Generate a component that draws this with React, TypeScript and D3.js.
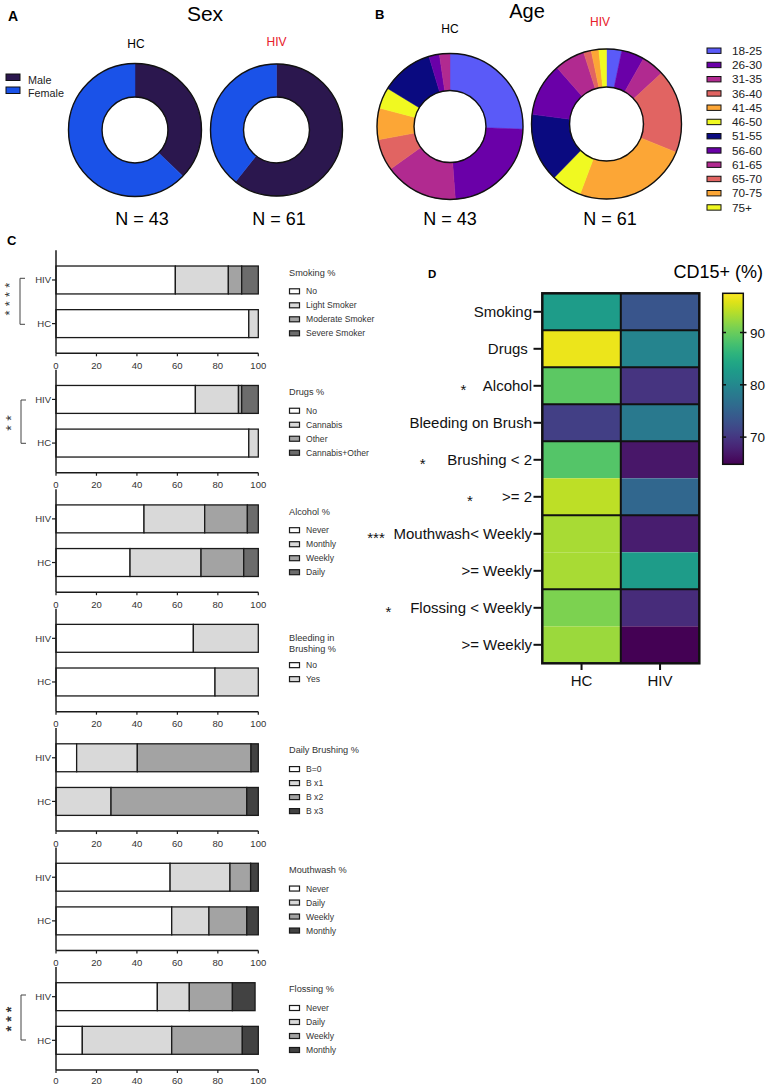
import React from "react";
import * as d3 from "d3";

const FONT = "'Liberation Sans', Arial, Helvetica, sans-serif";

// ---------- Panel A data ----------
const sexLabels = ["Male", "Female"];
const sexColors = ["#2b174e", "#1a52e8"];
const sexHC = [16, 27];
const sexHIV = [37, 24];

// ---------- Panel B data ----------
const ageGroups = ["18-25", "26-30", "31-35", "36-40", "41-45", "46-50", "51-55", "56-60", "61-65", "65-70", "70-75", "75+"];
const ageColors = ["#5a5af8", "#6a00a8", "#b12a90", "#e16462", "#fca636", "#f0f921", "#0a0a80", "#6a00a8", "#b12a90", "#e16462", "#fca636", "#f0f921"];
const ageHC = [11, 10, 7, 3, 3, 2, 5, 1, 1, 0, 0, 0];
const ageHIV = [2, 3, 3, 11, 15, 4, 9, 7, 4, 1, 1, 1];

// ---------- Panel C data ----------
const barGroups = ["HIV", "HC"];
const xTicks = [0, 20, 40, 60, 80, 100];

const smokingCats = ["No", "Light Smoker", "Moderate Smoker", "Severe Smoker"];
const smokingHIV = [59.0, 26.2, 6.6, 8.2];
const smokingHC = [95.3, 4.7, 0, 0];

const drugsCats = ["No", "Cannabis", "Other", "Cannabis+Other"];
const drugsHIV = [68.9, 21.3, 1.6, 8.2];
const drugsHC = [95.3, 4.7, 0, 0];

const alcoholCats = ["Never", "Monthly", "Weekly", "Daily"];
const alcoholHIV = [43.5, 30.0, 21.1, 5.4];
const alcoholHC = [36.6, 35.1, 21.1, 7.2];

const bleedingCats = ["No", "Yes"];
const bleedingHIV = [67.9, 32.1];
const bleedingHC = [78.6, 21.4];

const brushingCats = ["B=0", "B x1", "B x2", "B x3"];
const brushingHIV = [10.2, 30.0, 56.2, 3.6];
const brushingHC = [0, 27.2, 67.1, 5.7];

const mouthwashCats = ["Never", "Daily", "Weekly", "Monthly"];
const mouthwashHIV = [56.4, 29.6, 10.2, 3.8];
const mouthwashHC = [57.2, 18.4, 18.7, 5.7];

const flossingCats = ["Never", "Daily", "Weekly", "Monthly"];
const flossingHIV = [50.1, 15.8, 21.3, 11.2];
const flossingHC = [13.0, 44.2, 34.9, 7.9];

// ---------- Panel D data ----------
const heatRows = ["Smoking", "Drugs ", "Alcohol", "Bleeding on Brush", "Brushing < 2", ">= 2", "Mouthwash< Weekly", ">= Weekly", "Flossing < Weekly", ">= Weekly"];
const heatStars = ["", "", "*", "", "*", "*", "***", "", "*", ""];
const heatCols = ["HC", "HIV"];
const heatHC = [82.8, 96.5, 89.3, 70.9, 88.7, 94.2, 93.2, 93.2, 91.0, 92.6];
const heatHIV = [73.4, 79.5, 69.7, 78.0, 66.8, 75.6, 67.4, 82.8, 68.8, 64.9];
const colorbarTicks = [70, 80, 90];
const colorDomain = [64.8, 97.5];

// ---------- styles ----------
const grays4 = ["#ffffff", "#d9d9d9", "#a3a3a3", "#6c6c6c"];
const grays4dark = ["#ffffff", "#d9d9d9", "#a3a3a3", "#424242"];

function Donut({ cx, cy, r, ir, values, colors }: any) {
  const pie = d3.pie<number>().sort(null).value((d) => d);
  const arc = d3.arc<any>().innerRadius(ir).outerRadius(r);
  const arcs = pie(values);
  return (
    <g transform={`translate(${cx},${cy})`}>
      {arcs.map((a, i) =>
        a.value > 0 ? (
          <path key={i} d={arc(a) as string} fill={colors[i]} stroke={colors[i]} strokeWidth={0.5} />
        ) : null
      )}
      <circle r={r} fill="none" stroke="#111" strokeWidth={1.4} />
      <circle r={ir} fill="none" stroke="#111" strokeWidth={1.4} />
    </g>
  );
}

function BarChart({ A, cats, hiv, hc, colors, title }: any) {
  const x = d3.scaleLinear().domain([0, 100]).range([56, 258.3]);
  const y = d3.scaleBand().domain(barGroups).range([A - 103, A]).paddingInner(0.36).paddingOuter(0.36);
  const rows = [hiv, hc].map((vals: number[], gi: number) => {
    const o: any = { group: barGroups[gi] };
    cats.forEach((c: string, i: number) => (o[c] = vals[i]));
    return o;
  });
  const stack = d3.stack<any>().keys(cats)(rows);
  const twoLine = title.length > 1;
  const titleY = twoLine ? A - 73.5 : A - 81;
  const itemY = twoLine ? A - 46.5 : A - 62;
  return (
    <g>
      {stack.map((layer, li) =>
        layer.map((seg, gi) =>
          seg[1] - seg[0] > 0 ? (
            <rect
              key={`${li}-${gi}`}
              x={x(seg[0])}
              y={y(rows[gi].group)}
              width={x(seg[1]) - x(seg[0])}
              height={y.bandwidth()}
              fill={colors[li]}
              stroke="#1a1a1a"
              strokeWidth={1.3}
            />
          ) : null
        )
      )}
      <line x1={x(0)} x2={x(0)} y1={A - 103} y2={A} stroke="#1a1a1a" strokeWidth={1.5} />
      <line x1={x(0)} x2={x(100)} y1={A} y2={A} stroke="#1a1a1a" strokeWidth={1.5} />
      {xTicks.map((t) => (
        <g key={t}>
          <line x1={x(t)} x2={x(t)} y1={A} y2={A + 3} stroke="#1a1a1a" strokeWidth={1.2} />
          <text x={x(t)} y={Math.min(A + 15.5, 1084)} fontSize={9.5} textAnchor="middle" fill="#333">{t}</text>
        </g>
      ))}
      {barGroups.map((g) => (
        <g key={g}>
          <line x1={x(0) - 4} x2={x(0)} y1={y(g)! + y.bandwidth() / 2} y2={y(g)! + y.bandwidth() / 2} stroke="#1a1a1a" strokeWidth={1.2} />
          <text x={x(0) - 5} y={y(g)! + y.bandwidth() / 2 + 3.4} fontSize={9.5} textAnchor="end" fill="#333">{g}</text>
        </g>
      ))}
      {title.map((t: string, i: number) => (
        <text key={t} x={289} y={titleY + i * 11 + 3.3} fontSize={9.2} fill="#333">{t}</text>
      ))}
      {cats.map((c: string, i: number) => (
        <g key={c}>
          <rect x={289.5} y={itemY + i * 14 - 2.5} width={10} height={5} fill={colors[i]} stroke="#1a1a1a" strokeWidth={1.2} />
          <text x={306} y={itemY + i * 14 + 3} fontSize={8.6} fill="#333">{c}</text>
        </g>
      ))}
    </g>
  );
}

// significance stars written as one rotated text, reading bottom to top
function Stars({ x, yc, text, size, spacing, bold }: any) {
  return (
    <g opacity={0.999}>
      <text
        transform={`translate(${x + size * 0.575},${yc}) rotate(-90)`}
        fontSize={size}
        textAnchor="middle"
        letterSpacing={spacing}
        fontWeight={bold ? "bold" : "normal"}
        fill="#333"
      >
        {text}
      </text>
    </g>
  );
}

function Bracket({ x, y1, y2 }: any) {
  return (
    <path d={`M${x + 5},${y1}H${x}V${y2}H${x + 5}`} fill="none" stroke="#444" strokeWidth={1} />
  );
}

export default function App() {
  const A0 = 353.3;
  const step = 119.45;
  const charts = [
    { cats: smokingCats, hiv: smokingHIV, hc: smokingHC, colors: grays4, title: ["Smoking %"] },
    { cats: drugsCats, hiv: drugsHIV, hc: drugsHC, colors: grays4, title: ["Drugs %"] },
    { cats: alcoholCats, hiv: alcoholHIV, hc: alcoholHC, colors: grays4, title: ["Alcohol %"] },
    { cats: bleedingCats, hiv: bleedingHIV, hc: bleedingHC, colors: grays4, title: ["Bleeding in", "Brushing %"] },
    { cats: brushingCats, hiv: brushingHIV, hc: brushingHC, colors: grays4dark, title: ["Daily Brushing %"] },
    { cats: mouthwashCats, hiv: mouthwashHIV, hc: mouthwashHC, colors: grays4dark, title: ["Mouthwash %"] },
    { cats: flossingCats, hiv: flossingHIV, hc: flossingHC, colors: grays4dark, title: ["Flossing %"] },
  ];

  // heatmap
  const hx = d3.scaleBand().domain(heatCols).range([542.3, 699.3]);
  const hy = d3.scaleBand<number>().domain(d3.range(heatRows.length)).range([293.3, 663.3]);
  const color = d3.scaleSequential(d3.interpolateViridis).domain(colorDomain as [number, number]);
  const cb = d3.scaleLinear().domain(colorDomain).range([464.3, 293.3]);
  const groupBreaks = [1, 2, 3, 4, 6, 8];
  const gradStops = d3.range(0, 1.0001, 0.05);
  const starX = [0, 0, 463.3, 0, 422.7, 470, 376, 0, 388.3, 0];

  return (
    <svg width={768} height={1085} style={{ position: "absolute", left: 0, top: 0, fontFamily: FONT }}>
      <rect width={768} height={1085} fill="#fff" />
      {/* Panel A */}
      <text x={8} y={21} fontSize={14} fontWeight="bold">A</text>
      <text x={205} y={21} fontSize={21} textAnchor="middle">Sex</text>
      <text x={136} y={48} fontSize={12} textAnchor="middle">HC</text>
      <text x={276.5} y={46} fontSize={12} textAnchor="middle" fill="#e8202a">HIV</text>
      {sexLabels.map((s, i) => (
        <g key={s}>
          <rect x={6} y={77 + i * 13 - 3} width={14} height={6.5} fill={sexColors[i]} stroke="#111" strokeWidth={1} />
          <text x={28} y={80 + i * 13 + 4} fontSize={10.8} fill="#222">{s}</text>
        </g>
      ))}
      <Donut cx={135} cy={130} r={66.5} ir={33} values={sexHC} colors={sexColors} />
      <Donut cx={276.5} cy={130} r={66} ir={33} values={sexHIV} colors={sexColors} />
      <text x={142} y={225} fontSize={18} textAnchor="middle">N = 43</text>
      <text x={279} y={225} fontSize={18} textAnchor="middle">N = 61</text>

      {/* Panel B */}
      <text x={375} y={19} fontSize={13} fontWeight="bold">B</text>
      <text x={527} y={18} fontSize={20} textAnchor="middle">Age</text>
      <text x={450} y={33} fontSize={12} textAnchor="middle">HC</text>
      <text x={600} y={26} fontSize={12} textAnchor="middle" fill="#e8202a">HIV</text>
      <Donut cx={450} cy={126.5} r={73} ir={36} values={ageHC} colors={ageColors} />
      <Donut cx={606.5} cy={124} r={75} ir={37} values={ageHIV} colors={ageColors} />
      {ageGroups.map((g, i) => (
        <g key={g}>
          <rect x={707} y={50.7 + i * 14.25 - 2.7} width={14} height={5.4} fill={ageColors[i]} stroke="#111" strokeWidth={1} />
          <text x={732} y={50.7 + i * 14.25 + 4.2} fontSize={11.8} fill="#222">{g}</text>
        </g>
      ))}
      <text x={450} y={225} fontSize={18} textAnchor="middle">N = 43</text>
      <text x={610} y={225} fontSize={18} textAnchor="middle">N = 61</text>

      {/* Panel C */}
      <text x={7} y={245} fontSize={13} fontWeight="bold">C</text>
      {charts.map((c, i) => (
        <BarChart key={i} A={A0 + i * step} {...c} />
      ))}
      <Bracket x={20} y1={278.3} y2={324.3} />
      <Stars x={7} yc={297} text="****" size={13} spacing={4.2} />
      <Bracket x={21} y1={400} y2={443.3} />
      <Stars x={8} yc={420.7} text="**" size={14} spacing={4.6} />
      <Bracket x={21} y1={995} y2={1040} />
      <Stars x={8} yc={1017} text="***" size={14} spacing={4.2} bold />

      {/* Panel D */}
      <text x={428} y={278} fontSize={11.5} fontWeight="bold">D</text>
      <text x={763} y={278} fontSize={18} textAnchor="end">CD15+ (%)</text>
      {heatRows.map((r, i) => (
        <g key={i}>
          <rect x={hx("HC")} y={hy(i)} width={hx.bandwidth()} height={hy.bandwidth()} fill={color(heatHC[i])} />
          <rect x={hx("HIV")} y={hy(i)} width={hx.bandwidth()} height={hy.bandwidth()} fill={color(heatHIV[i])} />
          <line x1={533.5} x2={541} y1={hy(i)! + hy.bandwidth() / 2} y2={hy(i)! + hy.bandwidth() / 2} stroke="#111" strokeWidth={2} />
          <text x={532} y={hy(i)! + hy.bandwidth() / 2 + 5.3} fontSize={15} textAnchor="end" fill="#111" style={{ whiteSpace: "pre" }}>{r}</text>
          {heatStars[i] ? (
            <text x={starX[i]} y={hy(i)! + hy.bandwidth() / 2 + 8.7} fontSize={15} textAnchor="middle" fill="#111">{heatStars[i]}</text>
          ) : null}
        </g>
      ))}
      {groupBreaks.map((b) => (
        <line key={b} x1={542.3} x2={699.3} y1={hy(b)} y2={hy(b)} stroke="#111" strokeWidth={2} />
      ))}
      <line x1={hx("HIV")} x2={hx("HIV")} y1={293.3} y2={663.3} stroke="#111" strokeWidth={2} />
      <rect x={542.3} y={293.3} width={157} height={370} fill="none" stroke="#111" strokeWidth={2.5} />
      {heatCols.map((c) => (
        <g key={c}>
          <line x1={hx(c)! + hx.bandwidth() / 2} x2={hx(c)! + hx.bandwidth() / 2} y1={664} y2={670} stroke="#111" strokeWidth={2} />
          <text x={hx(c)! + hx.bandwidth() / 2} y={686} fontSize={15} textAnchor="middle" fill="#111">{c}</text>
        </g>
      ))}

      {/* colorbar */}
      <defs>
        <linearGradient id="vir" x1="0" y1="1" x2="0" y2="0">
          {gradStops.map((t) => (
            <stop key={t} offset={`${t * 100}%`} stopColor={d3.interpolateViridis(t)} />
          ))}
        </linearGradient>
      </defs>
      <rect x={722.7} y={293.3} width={20.6} height={171} fill="url(#vir)" stroke="#111" strokeWidth={1.5} />
      {colorbarTicks.map((t) => (
        <g key={t}>
          <line x1={722.7} x2={726} y1={cb(t)} y2={cb(t)} stroke="#111" strokeWidth={1.5} />
          <line x1={740} x2={746.5} y1={cb(t)} y2={cb(t)} stroke="#111" strokeWidth={1.5} />
          <text x={750} y={cb(t) + 5} fontSize={13.5} fill="#111">{t}</text>
        </g>
      ))}
    </svg>
  );
}
